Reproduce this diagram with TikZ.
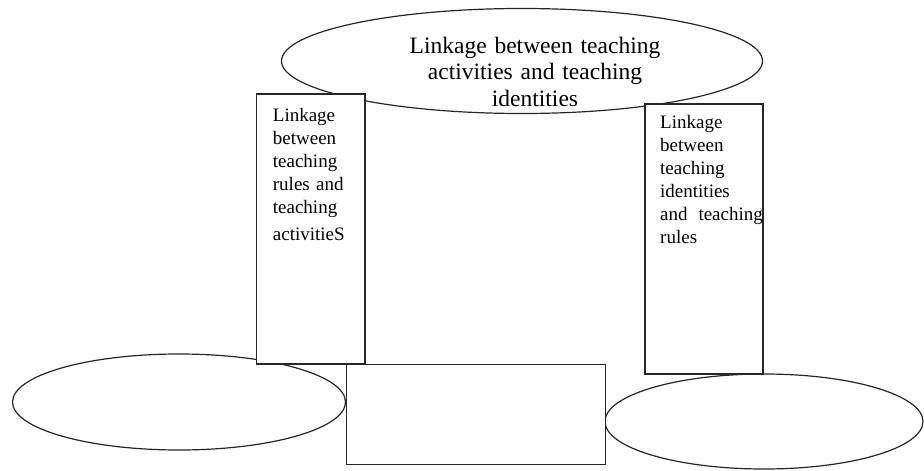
\documentclass[tikz,border=0pt]{standalone}
\usepackage{fontspec}
\setmainfont{Liberation Serif}
\usetikzlibrary{shapes.geometric}
\begin{document}
\begin{tikzpicture}[x=1pt,y=-1pt,
  shapeline/.style={draw=black!85, line width=1.2pt},
  oval/.style={shapeline, ellipse, inner sep=0pt, fill=white},
  box/.style={shapeline, rectangle, inner sep=0pt, fill=white},
  bigtext/.style={font=\fontsize{23.5}{26.4}\selectfont, inner sep=0pt, text width=270pt, align=center, anchor=base},
  sidetext/.style={font=\fontsize{19}{23}\selectfont, inner sep=0pt, text width=112pt, align=left, anchor=base west}]
\useasboundingbox (0,0) rectangle (924,471);
% ellipses
\node[oval, minimum width=481pt, minimum height=105pt] (topoval) at (522,61) {};
\node[oval, minimum width=333pt, minimum height=96pt] (leftoval) at (179,402) {};
\node[oval, minimum width=318pt, minimum height=95pt] (rightoval) at (764,421.5) {};
% rectangles
\node[box, minimum width=108.3pt, minimum height=270pt] (lbox) at (310.8,229) {};
\node[box, minimum width=118pt, minimum height=270pt] (rbox) at (704,239) {};
\node[box, minimum width=258.6pt, minimum height=100pt] (mbox) at (476,414.3) {};
% texts
\node[bigtext] (toptext) at (535,53.3) {Linkage between teaching\\activities and teaching\\identities};
\node[sidetext] (ltext) at (272.7,121) {Linkage\\between\\teaching\\rules and\\teaching\\[4.3pt]activitieS};
\node[sidetext] (rtext) at (660,128.3) {Linkage\\between\\teaching\\identities\\and\hspace{10.9pt}teaching\\rules};
\end{tikzpicture}
\end{document}
